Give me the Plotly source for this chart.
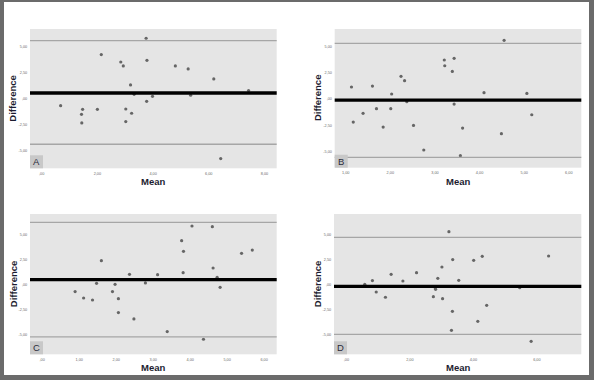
import plotly.graph_objects as go

# ---------------- data ----------------
a_mean = [3.75, 2.14, 2.84, 3.78, 2.93, 4.80, 5.26, 6.18, 3.19, 3.32, 5.35, 3.98, 3.77, 0.68, 1.47, 2.00, 3.02, 1.43, 3.23, 1.44, 3.02, 6.43, 7.43]
a_diff = [5.77, 4.20, 3.49, 3.65, 3.11, 3.11, 2.82, 1.86, 1.28, 0.38, 0.29, 0.19, -0.29, -0.71, -1.06, -1.06, -1.03, -1.54, -1.44, -2.37, -2.24, -5.80, 0.74]
a_lines = [0.51, 5.54, -4.42]  # bias, upper LoA, lower LoA

b_mean = [4.55, 3.21, 3.43, 3.22, 3.39, 2.24, 2.32, 1.13, 1.60, 2.03, 4.10, 5.06, 2.37, 3.43, 1.69, 2.01, 1.39, 5.17, 1.17, 1.84, 2.52, 3.62, 4.49, 2.75, 3.57]
b_diff = [5.61, 3.73, 3.89, 3.18, 2.64, 2.17, 1.75, 1.15, 1.24, 0.48, 0.61, 0.54, -0.25, -0.48, -0.92, -0.92, -1.37, -1.50, -2.20, -2.68, -2.52, -2.77, -3.31, -4.87, -5.41]
b_lines = [-0.10, 5.32, -5.57]

c_mean = [4.05, 4.60, 3.77, 3.82, 5.39, 5.68, 1.60, 4.62, 2.36, 3.12, 3.81, 4.73, 1.47, 1.97, 2.79, 4.81, 0.89, 1.90, 1.12, 1.36, 2.06, 2.06, 2.48, 3.38, 4.36]
c_diff = [5.81, 5.74, 4.36, 3.30, 3.10, 3.43, 2.38, 1.65, 1.02, 0.99, 1.19, 0.73, 0.13, 0.03, 0.17, -0.26, -0.69, -0.69, -1.32, -1.52, -1.39, -2.77, -3.40, -4.65, -5.41]
c_lines = [0.50, 6.17, -5.18]

d_mean = [3.23, 3.35, 4.01, 4.28, 6.37, 3.01, 2.21, 1.41, 2.88, 3.54, 0.82, 1.78, 0.58, 2.80, 2.81, 5.46, 0.94, 1.23, 2.74, 3.03, 4.42, 3.34, 4.14, 3.31, 5.82]
d_diff = [5.25, 2.48, 2.41, 2.81, 2.84, 1.75, 1.19, 1.02, 0.63, 0.43, 0.40, 0.36, 0.03, -0.33, -0.46, -0.30, -0.73, -1.25, -1.19, -1.39, -2.05, -2.64, -3.63, -4.52, -5.61]
d_lines = [-0.17, 4.69, -4.92]

panel_labels = ["A", "B", "C", "D"]

y_tickvals = [-5, -2.5, 0, 2.5, 5]
y_ticktext = ["-5,00", "-2,50", ",00", "2,50", "5,00"]

a_xticks = [0, 2, 4, 6, 8]
a_xtext = [",00", "2,00", "4,00", "6,00", "8,00"]
b_xticks = [1, 2, 3, 4, 5, 6]
b_xtext = ["1,00", "2,00", "3,00", "4,00", "5,00", "6,00"]
c_xticks = [0, 1, 2, 3, 4, 5, 6]
c_xtext = [",00", "1,00", "2,00", "3,00", "4,00", "5,00", "6,00"]
d_xticks = [0, 2, 4, 6]
d_xtext = [",00", "2,00", "4,00", "6,00"]

# ---------------- layout helpers ----------------
W, H = 594, 380

def fx(px):
    return px / W

def fy(py):
    return 1 - py / H

panels = [
    dict(mean=a_mean, diff=a_diff, lines=a_lines, xt=a_xticks, xl=a_xtext,
         xr=[-0.42, 8.44], yr=[-6.73, 6.66], box=(30, 276.7, 29, 168.3)),
    dict(mean=b_mean, diff=b_diff, lines=b_lines, xt=b_xticks, xl=b_xtext,
         xr=[0.754, 6.28], yr=[-6.56, 6.69], box=(334.7, 581.3, 29, 167.7)),
    dict(mean=c_mean, diff=c_diff, lines=c_lines, xt=c_xticks, xl=c_xtext,
         xr=[-0.33, 6.34], yr=[-6.9, 7.0], box=(30, 276.7, 214, 354.3)),
    dict(mean=d_mean, diff=d_diff, lines=d_lines, xt=d_xticks, xl=d_xtext,
         xr=[-0.39, 7.40], yr=[-6.9, 7.0], box=(334, 581.3, 214, 354.3)),
]

fig = go.Figure()
shapes = []
annotations = []
layout = dict(
    width=W, height=H,
    margin=dict(l=0, r=0, t=0, b=0),
    paper_bgcolor="white",
    plot_bgcolor="#e5e5e5",
    showlegend=False,
    font=dict(family="Liberation Sans, Arial, sans-serif"),
)

tick_font = dict(size=3.8, color="#6a6a6a")
title_font = dict(size=9.5, color="#1c1c30", family="Liberation Sans, Arial, sans-serif")

for i, p in enumerate(panels):
    n = "" if i == 0 else str(i + 1)
    xa, ya = "x" + n, "y" + n
    x0, x1, y0, y1 = p["box"]
    layout["xaxis" + n] = dict(
        domain=[fx(x0), fx(x1)], range=p["xr"], anchor=ya,
        tickvals=p["xt"], ticktext=p["xl"], tickfont=tick_font,
        showgrid=False, zeroline=False, showline=False,
        ticks="outside", ticklen=1, tickcolor="rgba(0,0,0,0)",
        fixedrange=True,
    )
    layout["yaxis" + n] = dict(
        domain=[fy(y1), fy(y0)], range=p["yr"], anchor=xa,
        tickvals=y_tickvals, ticktext=y_ticktext, tickfont=tick_font,
        showgrid=False, zeroline=False, showline=False,
        ticks="outside", ticklen=1, tickcolor="rgba(0,0,0,0)",
        fixedrange=True,
    )
    fig.add_trace(go.Scatter(
        x=p["mean"], y=p["diff"], mode="markers", xaxis=xa, yaxis=ya,
        marker=dict(size=3.2, color="#666666"),
        hoverinfo="skip",
    ))
    bias, up, lo = p["lines"]
    for val, col, wd in [(up, "#a6a6a6", 1.3), (lo, "#a6a6a6", 1.3), (bias, "black", 3.4)]:
        shapes.append(dict(type="line", xref=xa + " domain", yref=ya,
                           x0=0, x1=1, y0=val, y1=val,
                           line=dict(color=col, width=wd), layer="above"))
    # panel letter box
    bw = 13 / (x1 - x0)
    bh = 13 / (y1 - y0)
    shapes.append(dict(type="rect", xref=xa + " domain", yref=ya + " domain",
                       x0=0, x1=bw, y0=0, y1=bh, fillcolor="#c8c8c8",
                       line=dict(width=0), layer="above"))
    annotations.append(dict(text=panel_labels[i], xref=xa + " domain", yref=ya + " domain",
                            x=bw / 2, y=bh / 2, showarrow=False,
                            font=dict(size=9.5, color="#2a2a3a"),
                            xanchor="center", yanchor="middle"))
    # axis titles
    annotations.append(dict(text="<b>Difference</b>", xref="paper", yref="paper",
                            x=fx(x0 - 17), y=fy((y0 + y1) / 2), textangle=-90,
                            showarrow=False, font=title_font,
                            xanchor="center", yanchor="middle"))
    annotations.append(dict(text="<b>Mean</b>", xref="paper", yref="paper",
                            x=fx((x0 + x1) / 2), y=fy(y1 + 13.5), showarrow=False,
                            font=title_font, xanchor="center", yanchor="middle"))

# outer gray frame
frame_col = "#6b6b6b"
for (px0, px1, py0, py1) in [(0, 4, 0, H), (589, W, 0, H), (0, W, 0, 2), (0, W, 375, H)]:
    shapes.append(dict(type="rect", xref="paper", yref="paper",
                       x0=fx(px0), x1=fx(px1), y0=fy(py1), y1=fy(py0),
                       fillcolor=frame_col, line=dict(width=0), layer="above"))

layout["shapes"] = shapes
layout["annotations"] = annotations
fig.update_layout(**layout)

fig.write_html("out.html")
